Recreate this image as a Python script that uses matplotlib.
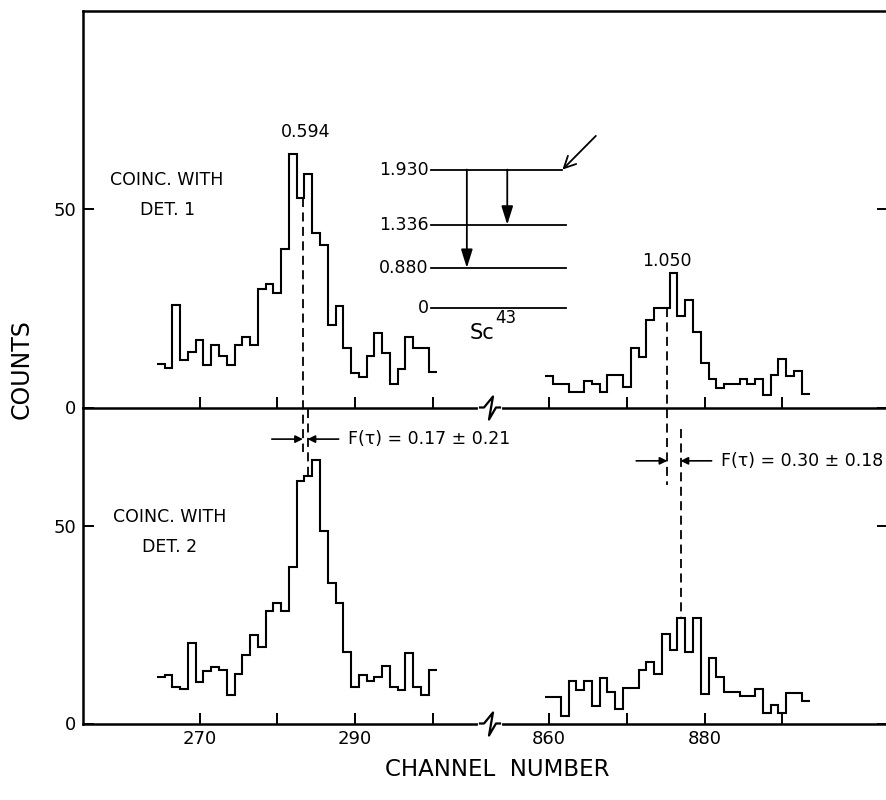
import numpy as np
import matplotlib
matplotlib.use("Agg")
import matplotlib.pyplot as plt
from matplotlib.lines import Line2D

plt.rcParams['font.family'] = ['DejaVu Sans']

# ---------------- data (counts per channel) ----------------
left_channels = list(range(265, 301))
right_channels = list(range(860, 894))

upper_left = [11.0, 9.9, 25.8, 11.9, 14.0, 16.9, 10.6, 15.8, 12.9, 10.6, 15.8, 17.8,
              15.7, 29.8, 31.1, 28.9, 39.9, 63.9, 52.9, 58.8, 43.9, 40.9, 20.9, 25.6,
              15.0, 8.7, 7.8, 12.9, 18.9, 13.8, 6.0, 9.8, 17.9, 15.0, 15.0, 8.9]
upper_right = [7.9, 6.0, 6.0, 3.9, 3.9, 6.8, 6.0, 3.9, 8.1, 8.1, 5.1, 15.0, 12.7, 22.0,
               25.1, 25.1, 33.9, 23.0, 27.0, 19.0, 11.2, 7.1, 4.9, 6.0, 6.0, 7.1, 6.0,
               7.1, 3.2, 8.1, 12.3, 7.9, 9.2, 3.5]
lower_left = [11.7, 12.4, 9.3, 8.8, 20.5, 10.4, 13.4, 14.4, 13.6, 7.3, 12.5, 17.4,
              22.4, 19.4, 28.5, 30.6, 28.5, 39.5, 61.5, 62.6, 66.6, 48.7, 35.5, 30.5,
              18.0, 9.3, 12.3, 10.7, 11.7, 14.5, 9.3, 8.5, 17.8, 9.3, 7.3, 13.6]
lower_right = [6.7, 6.7, 1.8, 10.7, 8.5, 10.7, 4.5, 11.5, 7.9, 3.7, 8.9, 8.9, 13.6,
               15.5, 12.5, 22.6, 18.6, 26.6, 18.0, 26.6, 7.5, 16.7, 11.7, 7.9, 7.9, 6.9,
               6.9, 8.8, 2.7, 4.8, 2.7, 7.7, 7.7, 5.8]

x_ticks = [270, 280, 290, 300, 860, 870, 880, 890]
x_tick_labels = ['270', '', '290', '', '860', '', '880', '']
y_ticks = [0, 50]

# peak labels and centroid positions (channel)
peak_labels = ['0.594', '1.050']
centroid_upper = [283.3, 875.2]
centroid_lower = [283.9, 876.9]
f_tau_texts = ['F(τ) = 0.17 ± 0.21', 'F(τ) = 0.30 ± 0.18']

levels = ['1.930', '1.336', '0.880', '0']
level_y = [60.0, 46.1, 35.2, 25.0]

# ---------------- broken-axis mapping ----------------
GAP_OFFSET = 545.0


def u(ch):
    ch = np.asarray(ch, dtype=float)
    return np.where(ch > 600, ch - GAP_OFFSET, ch)


def edges(chs):
    chs = np.asarray(chs, dtype=float)
    return u(np.append(chs - 0.5, chs[-1] + 0.5))


W, H = 886, 800
fig = plt.figure(figsize=(W / 100, H / 100), dpi=100)

left = 83 / W
width = (888 - 83) / W
y_top, y_mid, y_bot = 11, 407.5, 723.5
ax_u = fig.add_axes([left, 1 - y_mid / H, width, (y_mid - y_top) / H])
ax_l = fig.add_axes([left, 1 - y_bot / H, width, (y_bot - y_mid) / H])

XMIN, XMAX = 255.0, 358.6
LW = 1.5
for ax, yl in ((ax_u, 100), (ax_l, 80)):
    ax.set_xlim(XMIN, XMAX)
    ax.set_ylim(0, yl)
    ax.set_yticks(y_ticks)
    ax.set_yticklabels([str(t) for t in y_ticks])
    ax.set_xticks(u(x_ticks))
    ax.tick_params(axis='both', direction='in', length=8, width=1.4, labelsize=13,
                   top=False, right=True, left=True, bottom=True, pad=5)
    for s in ax.spines.values():
        s.set_linewidth(1.8)
    ax.patch.set_alpha(0)

ax_u.set_xticklabels([])
ax_l.set_xticklabels(x_tick_labels)
ax_l.spines['top'].set_visible(False)

# histograms
ax_u.stairs(upper_left, edges(left_channels), baseline=None, color='k', lw=LW)
ax_u.stairs(upper_right, edges(right_channels), baseline=None, color='k', lw=LW)
ax_l.stairs(lower_left, edges(left_channels), baseline=None, color='k', lw=LW)
ax_l.stairs(lower_right, edges(right_channels), baseline=None, color='k', lw=LW)

# panel labels
ax_u.text(265.8, 57.3, 'COINC. WITH', ha='center', va='center', fontsize=12.5)
ax_u.text(265.9, 49.7, 'DET. 1', ha='center', va='center', fontsize=12.5)
ax_l.text(266.2, 52.2, 'COINC. WITH', ha='center', va='center', fontsize=12.5)
ax_l.text(266.2, 44.6, 'DET. 2', ha='center', va='center', fontsize=12.5)

# peak energy labels
ax_u.text(u(283.6), 69.4, peak_labels[0], ha='center', va='center', fontsize=12.5)
ax_u.text(u(875.2), 37.0, peak_labels[1], ha='center', va='center', fontsize=12.5)

# dashed centroid lines
dash = dict(color='k', lw=1.3, ls=(0, (5, 3)), clip_on=False)
ax_u.plot([u(centroid_upper[0])] * 2, [52.9, -11.2], **dash)
ax_l.plot([u(centroid_lower[0])] * 2, [79.6, 62.6], **dash)
ax_u.plot([u(centroid_upper[1])] * 2, [25.1, -19.5], **dash)
ax_l.plot([u(centroid_lower[1])] * 2, [74.6, 26.6], **dash)

# F(tau) annotations
arr = dict(arrowstyle='-|>', lw=1.2, color='k', shrinkA=0, shrinkB=0,
           mutation_scale=11)
for cu, cl, yy, txt in ((centroid_upper[0], centroid_lower[0], 72.0, f_tau_texts[0]),
                        (centroid_upper[1], centroid_lower[1], 66.5, f_tau_texts[1])):
    xu, xl = float(u(cu)), float(u(cl))
    ax_l.annotate('', xy=(xu, yy), xytext=(xu - 4.0, yy), arrowprops=arr,
                  annotation_clip=False)
    ax_l.annotate('', xy=(xl, yy), xytext=(xl + 4.0, yy), arrowprops=arr,
                  annotation_clip=False)
    ax_l.text(xl + 5.2, yy, txt, ha='left', va='center', fontsize=12.5, clip_on=False)

# level scheme
lx0, lx1 = 299.8, 317.2
for lab, ly in zip(levels, level_y):
    x1 = 316.7 if lab == '1.930' else lx1
    ax_u.plot([lx0, x1], [ly, ly], color='k', lw=1.3)
    ax_u.text(lx0 - 0.3, ly, lab, ha='right', va='center', fontsize=12.5)
tarr = dict(arrowstyle='-|>,head_length=0.8,head_width=0.25', lw=1.3, color='k',
            shrinkA=0, shrinkB=0, mutation_scale=14)
ax_u.annotate('', xy=(304.4, level_y[2]), xytext=(304.4, level_y[0]), arrowprops=tarr)
ax_u.annotate('', xy=(309.6, level_y[1]), xytext=(309.6, level_y[0]), arrowprops=tarr)
ax_u.annotate('', xy=(316.7, level_y[0]), xytext=(321.0, 68.5),
              arrowprops=dict(arrowstyle='->,head_length=0.6,head_width=0.3', lw=1.3,
                              color='k', shrinkA=0, shrinkB=0, mutation_scale=14))
ax_u.text(306.3, 18.8, 'Sc', ha='center', va='center', fontsize=15)
ax_u.text(308.0, 22.6, '43', ha='left', va='center', fontsize=12)

# axis titles
fig.text(497 / W, 1 - 770 / H, 'CHANNEL  NUMBER', ha='center', va='center', fontsize=16.5)
fig.text(22 / W, 1 - 369 / H, 'COUNTS', ha='center', va='center', fontsize=17,
         rotation=90)

# axis-break marks (decorative zigzags on the two horizontal axis lines)
for yb in (y_mid, y_bot):
    xs = np.array([480, 484, 493, 489, 496, 500])
    ys = np.array([yb, yb, yb - 11, yb + 12, yb, yb])
    fig.add_artist(Line2D([480 / W, 500 / W], [1 - yb / H] * 2, color='white', lw=3))
    fig.add_artist(Line2D(xs / W, 1 - ys / H, color='k', lw=1.6))

fig.savefig('out.png', dpi=100)
